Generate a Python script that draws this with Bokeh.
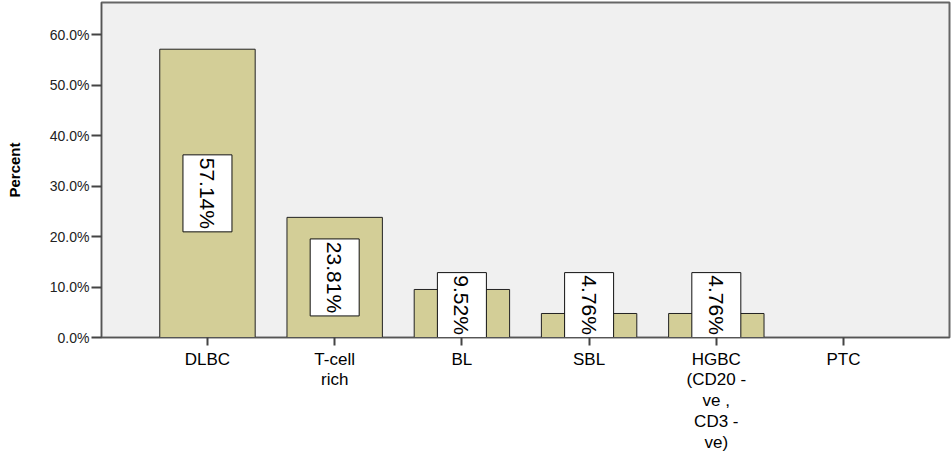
import numpy as np
from bokeh.plotting import figure
from bokeh.models import FactorRange, Range1d, FixedTicker, PrintfTickFormatter, ColumnDataSource
from bokeh.core.properties import value
from bokeh.embed import file_html
from bokeh.resources import INLINE

# ---- data ----
categories = ["DLBC", "T-cell\nrich", "BL", "SBL", "HGBC\n(CD20 -\nve ,\nCD3 -\nve)", "PTC"]
percents = [57.14, 23.81, 9.52, 4.76, 4.76, 0.0]
label_texts = ["57.14%", "23.81%", "9.52%", "4.76%", "4.76%"]
y_ticks = [0, 10, 20, 30, 40, 50, 60]

Y_MAX = 66.4
FRAME_H = 336

p = figure(
    x_range=FactorRange(*categories, range_padding=0.111),
    y_range=Range1d(0, Y_MAX),
    width=951, height=455,
    output_backend="svg", toolbar_location=None,
    min_border_left=101, min_border_right=2, min_border_top=2, min_border_bottom=117,
)
p.background_fill_color = "#F0F0F0"
p.border_fill_color = "white"
p.outline_line_color = "#666666"
p.outline_line_width = 2
p.xgrid.visible = False
p.ygrid.visible = False

p.vbar(x=categories, top=percents, width=0.75, fill_color="#D3CE97",
       line_color="#222222", line_width=1)

# value labels in white boxes
ppu = FRAME_H / Y_MAX
lab_cats = categories[:len(label_texts)]
lab_vals = percents[:len(label_texts)]
box_h = [12 * len(t) + 5 for t in label_texts]
ycent = [max(v / 2.0, (h / 2.0) / ppu) for v, h in zip(lab_vals, box_h)]
src = ColumnDataSource(dict(x=lab_cats, y=ycent, h=box_h, t=label_texts))
p.rect(x="x", y="y", width=49, height="h", width_units="screen", height_units="screen",
       source=src, fill_color="white", line_color="#111111", line_width=1)
p.text(x="x", y="y", text="t", source=src, angle=-np.pi / 2,
       text_align="center", text_baseline="middle",
       text_font=value("Liberation Sans"), text_font_size="21px", text_color="black")

# y axis
p.yaxis.ticker = FixedTicker(ticks=y_ticks)
p.yaxis.formatter = PrintfTickFormatter(format="%.1f%%")
p.yaxis.axis_label = "Percent"
p.yaxis.axis_label_text_font = "Liberation Sans"
p.yaxis.axis_label_text_font_style = "bold"
p.yaxis.axis_label_text_font_size = "15px"
p.yaxis.axis_label_text_color = "black"
p.yaxis.axis_label_standoff = 24
p.yaxis.major_label_text_font = "Liberation Sans"
p.yaxis.major_label_text_font_size = "14px"
p.yaxis.major_label_text_color = "#222222"
p.yaxis.major_tick_out = 10
p.yaxis.major_tick_in = 0
p.yaxis.minor_tick_out = 0
p.yaxis.minor_tick_in = 0
p.yaxis.major_label_standoff = 2
p.yaxis.axis_line_color = "#555555"
p.yaxis.major_tick_line_color = "#444444"
p.yaxis.major_tick_line_width = 2

# x axis
p.xaxis.major_label_text_font = "Liberation Sans"
p.xaxis.major_label_text_font_size = "17px"
p.xaxis.major_label_text_color = "black"
p.xaxis.major_label_text_line_height = 1.1
p.xaxis.major_tick_out = 8
p.xaxis.major_tick_in = 0
p.xaxis.major_label_standoff = 4
p.xaxis.axis_line_color = "#555555"
p.xaxis.major_tick_line_color = "#444444"
p.xaxis.major_tick_line_width = 2

open("out.html", "w").write(file_html(p, INLINE))
